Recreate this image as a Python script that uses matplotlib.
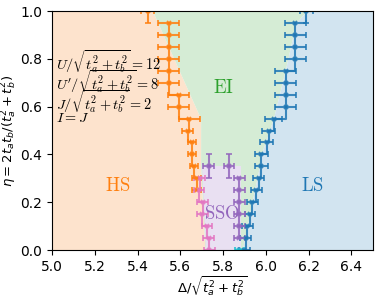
import matplotlib
matplotlib.use("Agg")
import matplotlib.pyplot as plt
import numpy as np

# phase boundary data (eta, Delta)
eta_hs = [0.95, 0.90, 0.85, 0.80, 0.75, 0.70, 0.65, 0.60, 0.55, 0.50, 0.45, 0.40, 0.35, 0.30, 0.25]
x_hs = [5.545, 5.545, 5.545, 5.545, 5.545, 5.545, 5.592, 5.592, 5.642, 5.634, 5.654, 5.654, 5.665, 5.676, 5.676]
xerr_hs = [0.05, 0.05, 0.05, 0.05, 0.05, 0.05, 0.05, 0.05, 0.05, 0.025, 0.02, 0.02, 0.02, 0.02, 0.02]

eta_ls = [0.95, 0.90, 0.85, 0.80, 0.75, 0.70, 0.65, 0.60, 0.55, 0.50, 0.45, 0.40, 0.35, 0.30, 0.25, 0.20, 0.15, 0.10, 0.05, 0.0]
x_ls = [6.138, 6.138, 6.138, 6.138, 6.092, 6.092, 6.092, 6.092, 6.037, 6.014, 6.003, 5.978, 5.978, 5.967, 5.956, 5.936, 5.926, 5.913, 5.905, 5.900]
xerr_ls = [0.05, 0.05, 0.05, 0.05, 0.05, 0.05, 0.05, 0.05, 0.04, 0.03, 0.03, 0.03, 0.03, 0.025, 0.025, 0.025, 0.025, 0.025, 0.025, 0.025]

eta_sso_l = [0.30, 0.25, 0.20, 0.15, 0.10, 0.05, 0.0]
x_sso_l = [5.690, 5.688, 5.704, 5.703, 5.725, 5.732, 5.735]
eta_sso_r = [0.30, 0.25, 0.20, 0.15, 0.10, 0.05]
x_sso_r = [5.876, 5.876, 5.876, 5.876, 5.876, 5.876]

# points with vertical error bars
x_top = [5.447, 6.189]
eta_top = [1.0, 1.0]
x_sso_top = [5.732, 5.828]
eta_sso_top = [0.35, 0.35]

# region boundaries for shading
eta_grid = [1.0, 0.55, 0.35, 0.0]
hs_edge = [5.47, 5.695, 5.695, 5.715]
eta_ls_edge = [1.0, 0.95, 0.75, 0.55, 0.40, 0.35, 0.20, 0.0]
ls_edge = [6.19, 6.14, 6.09, 6.035, 5.978, 5.97, 5.935, 5.89]
sso_poly_x = [5.700, 5.885, 5.885, 5.718]
sso_poly_y = [0.353, 0.353, 0.0, 0.0]

params = [r"$U/\sqrt{t_a^2+t_b^2}=12$", r"$U'/\sqrt{t_a^2+t_b^2}=8$",
          r"$J/\sqrt{t_a^2+t_b^2}=2$", r"$I=J$"]
params_eta = [0.787, 0.703, 0.622, 0.551]

fig = plt.figure(figsize=(3.82, 2.98), dpi=100)
ax = fig.add_axes([0.136, 0.161, 0.840, 0.802])

c_or, c_gr, c_bl, c_pu, c_pk = "tab:orange", "tab:green", "tab:blue", "tab:purple", "tab:pink"

ax.fill_betweenx(eta_grid, 5.0, hs_edge, color="#fde3cd", lw=0, zorder=0)
eg = np.linspace(0, 1, 201)
ax.fill_betweenx(eg, np.interp(eg, eta_grid[::-1], hs_edge[::-1]),
                 np.interp(eg, eta_ls_edge[::-1], ls_edge[::-1]), color="#d5ecd5", lw=0, zorder=0)
ax.fill_betweenx(eta_ls_edge, ls_edge, 6.5, color="#d2e4f0", lw=0, zorder=0)
ax.fill(sso_poly_x, sso_poly_y, color="#e9e0f2", lw=0, zorder=0.5)

kw = dict(marker="x", ms=3.5, mew=1.3, capsize=2.5, elinewidth=1.5, capthick=1.3, lw=1.5,
          drawstyle="steps-pre", alpha=0.85)
ax.errorbar(x_hs, eta_hs, xerr=xerr_hs, color=c_or, **kw)
ax.errorbar(x_ls, eta_ls, xerr=xerr_ls, color=c_bl, **kw)
ax.errorbar(x_sso_l, eta_sso_l, xerr=0.025, color=c_pk, **kw)
ax.errorbar(x_sso_r, eta_sso_r, xerr=0.025, color=c_pu, **kw)
kw2 = dict(marker="x", ms=3.5, mew=1.3, capsize=2.5, elinewidth=1.5, capthick=1.3, ls="none", alpha=0.85)
ax.errorbar([5.876], [0.0], xerr=0.02, color="tab:cyan", **kw2)
ax.errorbar(x_top[:1], eta_top[:1], xerr=0.03, yerr=0.05, color=c_or, **kw2)
ax.errorbar(x_top[1:], eta_top[1:], xerr=0.03, yerr=0.05, color=c_bl, **kw2)
ax.errorbar(x_sso_top, eta_sso_top, xerr=0.025, yerr=0.05, color=c_pu, **kw2)

tkw = dict(math_fontfamily="cm", fontsize=13.5, ha="center", va="center")
ax.text(5.307, 0.268, r"$\mathrm{HS}$", color=c_or, **tkw)
ax.text(5.80, 0.678, r"$\mathrm{EI}$", color=c_gr, **tkw)
ax.text(6.219, 0.268, r"$\mathrm{LS}$", color=c_bl, **tkw)
ax.text(5.795, 0.151, r"$\mathrm{SSO}$", color=c_pu, **tkw)

for s, e in zip(params, params_eta):
    ax.text(5.02, e, s, math_fontfamily="cm", fontsize=10.3, ha="left", va="center", color="black")

ax.set_xlim(5.0, 6.5)
ax.set_ylim(0.0, 1.0)
ax.set_xticks([5.0, 5.2, 5.4, 5.6, 5.8, 6.0, 6.2, 6.4])
ax.set_yticks([0.0, 0.2, 0.4, 0.6, 0.8, 1.0])
ax.set_xlabel(r"$\Delta/\sqrt{t_a^2+t_b^2}$", fontsize=9.5, labelpad=0.5)
ax.set_ylabel(r"$\eta = 2t_at_b/(t_a^2+t_b^2)$", fontsize=9.5, labelpad=1)
fig.savefig("out.png", dpi=100)
